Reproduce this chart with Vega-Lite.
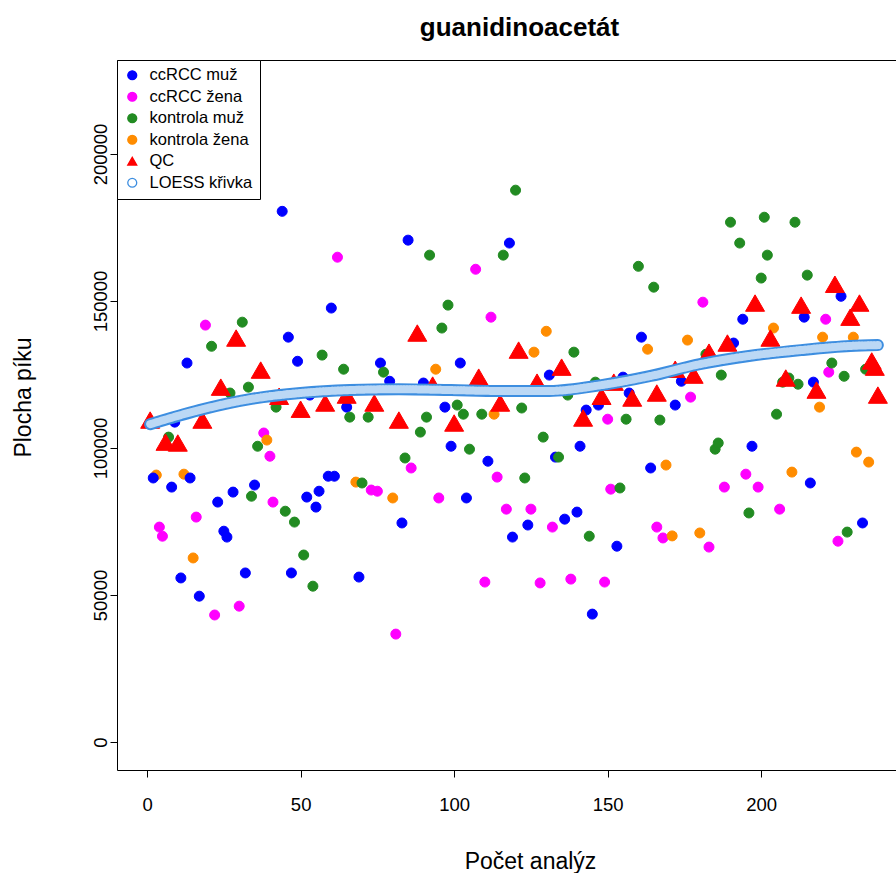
{
  "$schema": "https://vega.github.io/schema/vega-lite/v6.json",
  "width": 779,
  "height": 710,
  "autosize": {"type": "none"},
  "padding": {"left": 117, "top": 60, "right": 0, "bottom": 103},
  "background": "white",
  "title": {"text": "guanidinoacetát", "fontSize": 26, "fontWeight": "bold", "font": "Liberation Sans", "color": "#000", "anchor": "middle", "dx": 13, "offset": 19},
  "config": {"view": {"stroke": "#000", "strokeWidth": 1}},
  "datasets": {
    "pts": [
      {"x":3,"y":90800,"g":"kontrola žena"},{"x":2,"y":89800,"g":"ccRCC muž"},{"x":4,"y":73100,"g":"ccRCC žena"},{"x":5,"y":70000,"g":"ccRCC žena"},{"x":7,"y":103700,"g":"kontrola muž"},{"x":8,"y":86700,"g":"ccRCC muž"},{"x":9,"y":108800,"g":"ccRCC muž"},{"x":11,"y":55800,"g":"ccRCC muž"},{"x":13,"y":128900,"g":"ccRCC muž"},{"x":12,"y":91100,"g":"kontrola žena"},
      {"x":14,"y":89800,"g":"ccRCC muž"},{"x":15,"y":62600,"g":"kontrola žena"},{"x":16,"y":76500,"g":"ccRCC žena"},{"x":17,"y":49600,"g":"ccRCC muž"},{"x":19,"y":141800,"g":"ccRCC žena"},{"x":20,"y":205700,"g":"ccRCC muž"},{"x":21,"y":134600,"g":"kontrola muž"},{"x":22,"y":43200,"g":"ccRCC žena"},{"x":23,"y":81600,"g":"ccRCC muž"},{"x":25,"y":71700,"g":"ccRCC muž"},
      {"x":26,"y":69700,"g":"ccRCC muž"},{"x":27,"y":118700,"g":"kontrola muž"},{"x":28,"y":85000,"g":"ccRCC muž"},{"x":30,"y":46200,"g":"ccRCC žena"},{"x":31,"y":142800,"g":"kontrola muž"},{"x":32,"y":57500,"g":"ccRCC muž"},{"x":33,"y":120700,"g":"kontrola muž"},{"x":35,"y":87400,"g":"ccRCC muž"},{"x":34,"y":83600,"g":"kontrola muž"},{"x":36,"y":100600,"g":"kontrola muž"},
      {"x":38,"y":105100,"g":"ccRCC žena"},{"x":39,"y":102700,"g":"kontrola žena"},{"x":40,"y":97200,"g":"ccRCC žena"},{"x":41,"y":81600,"g":"ccRCC žena"},{"x":42,"y":113900,"g":"kontrola muž"},{"x":44,"y":180500,"g":"ccRCC muž"},{"x":45,"y":78500,"g":"kontrola muž"},{"x":46,"y":137700,"g":"ccRCC muž"},{"x":47,"y":57500,"g":"ccRCC muž"},{"x":48,"y":74800,"g":"kontrola muž"},
      {"x":49,"y":129500,"g":"ccRCC muž"},{"x":51,"y":63600,"g":"kontrola muž"},{"x":52,"y":83300,"g":"ccRCC muž"},{"x":53,"y":118000,"g":"ccRCC muž"},{"x":54,"y":53000,"g":"kontrola muž"},{"x":55,"y":79900,"g":"ccRCC muž"},{"x":56,"y":85300,"g":"ccRCC muž"},{"x":57,"y":131600,"g":"kontrola muž"},{"x":59,"y":90400,"g":"ccRCC muž"},{"x":60,"y":147600,"g":"ccRCC muž"},
      {"x":61,"y":90400,"g":"ccRCC muž"},{"x":62,"y":164900,"g":"ccRCC žena"},{"x":64,"y":126800,"g":"kontrola muž"},{"x":65,"y":113900,"g":"ccRCC muž"},{"x":66,"y":110500,"g":"kontrola muž"},{"x":68,"y":88400,"g":"kontrola žena"},{"x":69,"y":56100,"g":"ccRCC muž"},{"x":70,"y":88100,"g":"kontrola muž"},{"x":72,"y":110500,"g":"kontrola muž"},{"x":73,"y":85700,"g":"ccRCC žena"},
      {"x":75,"y":85300,"g":"ccRCC žena"},{"x":76,"y":128900,"g":"ccRCC muž"},{"x":77,"y":125800,"g":"kontrola muž"},{"x":79,"y":122700,"g":"ccRCC muž"},{"x":80,"y":83000,"g":"kontrola žena"},{"x":81,"y":36700,"g":"ccRCC žena"},{"x":83,"y":74500,"g":"ccRCC muž"},{"x":84,"y":96600,"g":"kontrola muž"},{"x":85,"y":170700,"g":"ccRCC muž"},{"x":86,"y":93200,"g":"ccRCC žena"},
      {"x":89,"y":105400,"g":"kontrola muž"},{"x":90,"y":122100,"g":"ccRCC muž"},{"x":91,"y":110500,"g":"kontrola muž"},{"x":92,"y":165600,"g":"kontrola muž"},{"x":94,"y":126800,"g":"kontrola žena"},{"x":95,"y":83000,"g":"ccRCC žena"},{"x":96,"y":140800,"g":"kontrola muž"},{"x":97,"y":113900,"g":"ccRCC muž"},{"x":98,"y":148600,"g":"kontrola muž"},{"x":99,"y":100600,"g":"ccRCC muž"},
      {"x":101,"y":114600,"g":"kontrola muž"},{"x":102,"y":128900,"g":"ccRCC muž"},{"x":103,"y":111500,"g":"kontrola muž"},{"x":104,"y":83000,"g":"ccRCC muž"},{"x":105,"y":99600,"g":"kontrola muž"},{"x":107,"y":160800,"g":"ccRCC žena"},{"x":109,"y":111500,"g":"kontrola muž"},{"x":110,"y":54400,"g":"ccRCC žena"},{"x":111,"y":95500,"g":"ccRCC muž"},{"x":112,"y":144500,"g":"ccRCC žena"},
      {"x":113,"y":111500,"g":"kontrola žena"},{"x":114,"y":90100,"g":"ccRCC žena"},{"x":116,"y":165600,"g":"kontrola muž"},{"x":117,"y":79200,"g":"ccRCC žena"},{"x":118,"y":169700,"g":"ccRCC muž"},{"x":119,"y":69700,"g":"ccRCC muž"},{"x":120,"y":187700,"g":"kontrola muž"},{"x":122,"y":113600,"g":"kontrola muž"},{"x":123,"y":89800,"g":"kontrola muž"},{"x":124,"y":73800,"g":"ccRCC muž"},
      {"x":125,"y":79200,"g":"ccRCC žena"},{"x":126,"y":132600,"g":"kontrola žena"},{"x":128,"y":54100,"g":"ccRCC žena"},{"x":129,"y":103700,"g":"kontrola muž"},{"x":130,"y":139700,"g":"kontrola žena"},{"x":131,"y":124800,"g":"ccRCC muž"},{"x":132,"y":73100,"g":"ccRCC žena"},{"x":133,"y":96900,"g":"ccRCC muž"},{"x":134,"y":96900,"g":"kontrola muž"},{"x":136,"y":75800,"g":"ccRCC muž"},
      {"x":137,"y":118000,"g":"kontrola muž"},{"x":138,"y":55400,"g":"ccRCC žena"},{"x":139,"y":132600,"g":"kontrola muž"},{"x":140,"y":78200,"g":"ccRCC muž"},{"x":141,"y":100600,"g":"ccRCC muž"},{"x":143,"y":112900,"g":"ccRCC muž"},{"x":144,"y":70000,"g":"kontrola muž"},{"x":145,"y":43500,"g":"ccRCC muž"},{"x":146,"y":122400,"g":"kontrola muž"},{"x":147,"y":114600,"g":"ccRCC muž"},
      {"x":149,"y":54400,"g":"ccRCC žena"},{"x":150,"y":109800,"g":"ccRCC žena"},{"x":151,"y":86000,"g":"ccRCC žena"},{"x":153,"y":66600,"g":"ccRCC muž"},{"x":154,"y":86400,"g":"kontrola muž"},{"x":155,"y":124100,"g":"ccRCC muž"},{"x":156,"y":109800,"g":"kontrola muž"},{"x":157,"y":118700,"g":"ccRCC muž"},{"x":160,"y":161800,"g":"kontrola muž"},{"x":161,"y":137700,"g":"ccRCC muž"},
      {"x":163,"y":133600,"g":"kontrola žena"},{"x":164,"y":93200,"g":"ccRCC muž"},{"x":165,"y":154700,"g":"kontrola muž"},{"x":166,"y":73100,"g":"ccRCC žena"},{"x":167,"y":109500,"g":"kontrola muž"},{"x":168,"y":69400,"g":"ccRCC žena"},{"x":169,"y":94200,"g":"kontrola žena"},{"x":171,"y":70100,"g":"kontrola žena"},{"x":172,"y":114600,"g":"ccRCC muž"},{"x":174,"y":122700,"g":"ccRCC muž"},
      {"x":176,"y":136700,"g":"kontrola žena"},{"x":177,"y":117300,"g":"ccRCC žena"},{"x":180,"y":71100,"g":"kontrola žena"},{"x":181,"y":149600,"g":"ccRCC žena"},{"x":182,"y":131900,"g":"kontrola muž"},{"x":183,"y":66300,"g":"ccRCC žena"},{"x":185,"y":99600,"g":"kontrola muž"},{"x":186,"y":101700,"g":"kontrola muž"},{"x":187,"y":124800,"g":"kontrola muž"},{"x":188,"y":86700,"g":"ccRCC žena"},
      {"x":190,"y":176800,"g":"kontrola muž"},{"x":191,"y":135700,"g":"ccRCC muž"},{"x":193,"y":169700,"g":"kontrola muž"},{"x":194,"y":143800,"g":"ccRCC muž"},{"x":195,"y":91100,"g":"ccRCC žena"},{"x":196,"y":77900,"g":"kontrola muž"},{"x":197,"y":100600,"g":"ccRCC muž"},{"x":199,"y":86700,"g":"ccRCC žena"},{"x":200,"y":157800,"g":"kontrola muž"},{"x":201,"y":178500,"g":"kontrola muž"},
      {"x":202,"y":165600,"g":"kontrola muž"},{"x":204,"y":140800,"g":"kontrola žena"},{"x":205,"y":111500,"g":"kontrola muž"},{"x":206,"y":79200,"g":"ccRCC žena"},{"x":207,"y":122400,"g":"kontrola muž"},{"x":209,"y":123800,"g":"kontrola muž"},{"x":210,"y":91800,"g":"kontrola žena"},{"x":211,"y":176800,"g":"kontrola muž"},{"x":212,"y":121700,"g":"kontrola muž"},{"x":214,"y":144500,"g":"ccRCC muž"},
      {"x":215,"y":158800,"g":"kontrola muž"},{"x":216,"y":88100,"g":"ccRCC muž"},{"x":217,"y":122400,"g":"ccRCC muž"},{"x":219,"y":113900,"g":"kontrola žena"},{"x":220,"y":137700,"g":"kontrola žena"},{"x":221,"y":143800,"g":"ccRCC žena"},{"x":222,"y":125800,"g":"ccRCC žena"},{"x":223,"y":128900,"g":"kontrola muž"},{"x":225,"y":68300,"g":"ccRCC žena"},{"x":226,"y":151600,"g":"ccRCC muž"},
      {"x":227,"y":124400,"g":"kontrola muž"},{"x":228,"y":71400,"g":"kontrola muž"},{"x":230,"y":137700,"g":"kontrola žena"},{"x":231,"y":98600,"g":"kontrola žena"},{"x":233,"y":74500,"g":"ccRCC muž"},{"x":234,"y":126800,"g":"kontrola muž"},{"x":235,"y":95200,"g":"kontrola žena"},
      {"x":1,"y":109500,"g":"QC"},{"x":6,"y":102000,"g":"QC"},{"x":10,"y":101700,"g":"QC"},{"x":18,"y":109500,"g":"QC"},{"x":24,"y":120700,"g":"QC"},{"x":29,"y":137400,"g":"QC"},{"x":37,"y":126500,"g":"QC"},{"x":43,"y":117600,"g":"QC"},{"x":50,"y":113200,"g":"QC"},{"x":58,"y":115300,"g":"QC"},
      {"x":65,"y":118000,"g":"QC"},{"x":74,"y":115300,"g":"QC"},{"x":82,"y":109500,"g":"QC"},{"x":88,"y":139100,"g":"QC"},{"x":93,"y":121400,"g":"QC"},{"x":100,"y":108500,"g":"QC"},{"x":108,"y":124100,"g":"QC"},{"x":115,"y":115300,"g":"QC"},{"x":121,"y":133300,"g":"QC"},{"x":127,"y":122400,"g":"QC"},
      {"x":135,"y":127500,"g":"QC"},{"x":142,"y":110200,"g":"QC"},{"x":148,"y":117600,"g":"QC"},{"x":152,"y":122400,"g":"QC"},{"x":158,"y":117000,"g":"QC"},{"x":166,"y":118700,"g":"QC"},{"x":172,"y":126800,"g":"QC"},{"x":178,"y":124800,"g":"QC"},{"x":183,"y":132600,"g":"QC"},{"x":189,"y":135700,"g":"QC"},
      {"x":198,"y":149300,"g":"QC"},{"x":203,"y":137400,"g":"QC"},{"x":208,"y":123800,"g":"QC"},{"x":213,"y":148600,"g":"QC"},{"x":218,"y":119700,"g":"QC"},{"x":224,"y":155700,"g":"QC"},{"x":229,"y":144500,"g":"QC"},{"x":232,"y":149300,"g":"QC"},{"x":236,"y":129600,"g":"QC"},{"x":237,"y":127500,"g":"QC"},{"x":238,"y":118000,"g":"QC"}
    ],
    "loess": [
      {"x":1,"y":108100},{"x":17,"y":112900},{"x":34,"y":116700},{"x":50,"y":118700},{"x":66,"y":119700},{"x":82,"y":120000},{"x":99,"y":119700},{"x":115,"y":119400},{"x":131,"y":119400},{"x":148,"y":121400},{"x":164,"y":124500},{"x":180,"y":128500},{"x":196,"y":131300},{"x":213,"y":133300},{"x":229,"y":134700},{"x":238,"y":135000}
    ]
  },
  "encoding": {
    "x": {"field": "x", "type": "quantitative", "scale": {"domain": [-9.8, 243.9], "nice": false, "zero": false},
      "axis": {"values": [0, 50, 100, 150, 200], "title": "Počet analýz", "titleFont": "Liberation Sans", "titleFontSize": 23, "titleFontWeight": "normal", "titleColor": "#000", "titleX": 413, "titleY": 98, "titleAlign": "center", "titleBaseline": "alphabetic", "labelFont": "Liberation Sans", "labelFontSize": 18.5, "labelColor": "#000", "labelPadding": 18, "tickSize": 7, "tickColor": "#000", "domain": false, "grid": false}},
    "y": {"field": "y", "type": "quantitative", "scale": {"domain": [-9524, 231973], "nice": false, "zero": false},
      "axis": {"values": [0, 50000, 100000, 150000, 200000], "format": "d", "title": "Plocha píku", "titleFont": "Liberation Sans", "titleFontSize": 23, "titleFontWeight": "normal", "titleColor": "#000", "titleAngle": 270, "titleX": -87, "titleY": 337, "titleAlign": "center", "titleBaseline": "alphabetic", "labelFont": "Liberation Sans", "labelFontSize": 18.5, "labelColor": "#000", "labelAngle": 270, "labelAlign": "center", "labelBaseline": "alphabetic", "labelPadding": 4, "tickSize": 7, "tickColor": "#000", "domain": false, "grid": false}}
  },
  "layer": [
    {
      "data": {"name": "pts"},
      "mark": {"type": "point", "filled": true, "strokeWidth": 1, "opacity": 1},
      "encoding": {
        "shape": {"field": "g", "type": "nominal",
          "scale": {"domain": ["ccRCC muž", "ccRCC žena", "kontrola muž", "kontrola žena", "QC", "LOESS křivka"], "range": ["circle", "circle", "circle", "circle", "triangle-up", "circle"]},
          "legend": {"title": null, "orient": "none", "legendX": 0, "legendY": 0, "fillColor": "white", "strokeColor": "#000", "padding": 7, "labelFont": "Liberation Sans", "labelFontSize": 16.5, "labelColor": "#000", "symbolSize": 80, "rowPadding": 4.5, "labelOffset": 9, "symbolStrokeWidth": 1.3}},
        "fill": {"field": "g", "type": "nominal",
          "scale": {"domain": ["ccRCC muž", "ccRCC žena", "kontrola muž", "kontrola žena", "QC", "LOESS křivka"], "range": ["#0000FF", "#FF00FF", "#228B22", "#FF8C00", "#FF0000", "transparent"]},
          "legend": {"title": null, "orient": "none", "legendX": 0, "legendY": 0, "fillColor": "white", "strokeColor": "#000", "padding": 7, "labelFont": "Liberation Sans", "labelFontSize": 16.5, "labelColor": "#000", "symbolSize": 80, "rowPadding": 4.5, "labelOffset": 9, "symbolStrokeWidth": 1.3}},
        "stroke": {"field": "g", "type": "nominal",
          "scale": {"domain": ["ccRCC muž", "ccRCC žena", "kontrola muž", "kontrola žena", "QC", "LOESS křivka"], "range": ["#0000FF", "#FF00FF", "#228B22", "#FF8C00", "#FF0000", "#3D8EE0"]},
          "legend": {"title": null, "orient": "none", "legendX": 0, "legendY": 0, "fillColor": "white", "strokeColor": "#000", "padding": 7, "labelFont": "Liberation Sans", "labelFontSize": 16.5, "labelColor": "#000", "symbolSize": 80, "rowPadding": 4.5, "labelOffset": 9, "symbolStrokeWidth": 1.3}},
        "size": {"condition": {"test": "datum.g === 'QC'", "value": 360}, "value": 100}
      }
    },
    {
      "data": {"name": "loess"},
      "mark": {"type": "line", "interpolate": "monotone", "strokeWidth": 12, "color": "#3D8EE0", "strokeCap": "round"},
      "encoding": {}
    },
    {
      "data": {"name": "loess"},
      "mark": {"type": "line", "interpolate": "monotone", "strokeWidth": 8, "color": "#C9E0F7", "strokeCap": "round", "strokeDash": [2, 1], "opacity": 0.9},
      "encoding": {}
    }
  ]
}
